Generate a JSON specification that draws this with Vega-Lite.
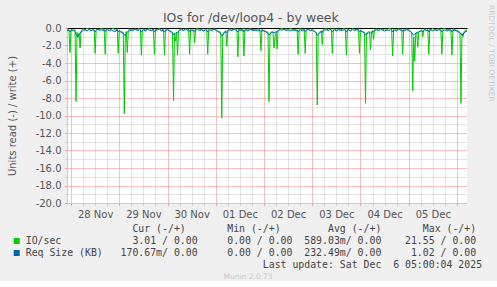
{
  "$schema": "https://vega.github.io/schema/vega-lite/v6.json",
  "background": "#F0F0F0",
  "padding": {"left": 7, "top": 5, "right": 5, "bottom": 0},
  "title": {"text": "IOs for /dev/loop4 - by week", "font": "DejaVu Sans", "fontSize": 12.5, "fontWeight": "normal", "color": "#555555", "anchor": "middle", "frame": "bounds", "offset": -19},
  "spacing": 5,
  "config": {"font": "DejaVu Sans"},
  "vconcat": [
    {
      "width": 400,
      "height": 175,
      "view": {"fill": "#FFFFFF", "stroke": null},
      "title": {"text": "RRDTOOL / TOBI OETIKER", "orient": "right", "anchor": "start", "angle": 90, "font": "DejaVu Sans", "fontSize": 7.5, "fontWeight": "normal", "color": "#C8C8C8", "offset": 18, "dx": -18},
      "data": {"values": [
        {"t":"2025-11-27T22:00","io":-0.1,"rq":-0.3},
        {"t":"2025-11-27T23:00","io":-0.2,"rq":-0.25},
        {"t":"2025-11-27T23:30","io":-2.8,"rq":-0.45},
        {"t":"2025-11-28T00:00","io":-0.15,"rq":-0.3},
        {"t":"2025-11-28T01:00","io":-0.3,"rq":-0.2},
        {"t":"2025-11-28T02:00","io":-0.2,"rq":-0.4},
        {"t":"2025-11-28T02:30","io":-8.4,"rq":-0.7},
        {"t":"2025-11-28T03:00","io":-0.5,"rq":-0.95},
        {"t":"2025-11-28T03:30","io":-1.1,"rq":-0.9},
        {"t":"2025-11-28T04:00","io":-0.6,"rq":-0.75},
        {"t":"2025-11-28T04:30","io":-2.3,"rq":-0.6},
        {"t":"2025-11-28T05:00","io":-0.3,"rq":-0.45},
        {"t":"2025-11-28T06:00","io":-0.1,"rq":-0.3},
        {"t":"2025-11-28T07:00","io":-0.2,"rq":-0.2},
        {"t":"2025-11-28T08:00","io":-0.05,"rq":-0.35},
        {"t":"2025-11-28T09:00","io":-0.15,"rq":-0.15},
        {"t":"2025-11-28T10:00","io":-0.3,"rq":-0.3},
        {"t":"2025-11-28T11:00","io":-0.1,"rq":-0.2},
        {"t":"2025-11-28T11:30","io":-0.2,"rq":-0.25},
        {"t":"2025-11-28T12:00","io":-2.9,"rq":-0.45},
        {"t":"2025-11-28T12:30","io":-0.25,"rq":-0.3},
        {"t":"2025-11-28T13:00","io":-0.1,"rq":-0.15},
        {"t":"2025-11-28T14:00","io":-0.2,"rq":-0.25},
        {"t":"2025-11-28T15:00","io":-0.05,"rq":-0.2},
        {"t":"2025-11-28T16:00","io":-0.15,"rq":-0.3},
        {"t":"2025-11-28T16:30","io":-0.1,"rq":-0.2},
        {"t":"2025-11-28T17:00","io":-3.0,"rq":-0.4},
        {"t":"2025-11-28T17:30","io":-0.2,"rq":-0.25},
        {"t":"2025-11-28T18:00","io":-0.1,"rq":-0.15},
        {"t":"2025-11-28T19:00","io":-0.3,"rq":-0.3},
        {"t":"2025-11-28T20:00","io":-0.15,"rq":-0.2},
        {"t":"2025-11-28T21:00","io":-0.05,"rq":-0.35},
        {"t":"2025-11-28T22:00","io":-0.25,"rq":-0.4},
        {"t":"2025-11-28T23:00","io":-0.1,"rq":-0.2},
        {"t":"2025-11-28T23:30","io":-2.9,"rq":-0.4},
        {"t":"2025-11-29T00:00","io":-0.3,"rq":-0.35},
        {"t":"2025-11-29T01:00","io":-0.4,"rq":-0.5},
        {"t":"2025-11-29T02:00","io":-0.5,"rq":-0.6},
        {"t":"2025-11-29T02:30","io":-9.8,"rq":-0.8},
        {"t":"2025-11-29T03:00","io":-1.0,"rq":-0.75},
        {"t":"2025-11-29T03:30","io":-0.4,"rq":-0.6},
        {"t":"2025-11-29T04:00","io":-2.8,"rq":-0.5},
        {"t":"2025-11-29T04:30","io":-0.3,"rq":-0.35},
        {"t":"2025-11-29T05:00","io":-0.2,"rq":-0.25},
        {"t":"2025-11-29T06:00","io":-0.15,"rq":-0.3},
        {"t":"2025-11-29T07:00","io":-0.3,"rq":-0.2},
        {"t":"2025-11-29T08:00","io":-0.1,"rq":-0.15},
        {"t":"2025-11-29T09:00","io":-0.2,"rq":-0.3},
        {"t":"2025-11-29T10:00","io":-0.05,"rq":-0.2},
        {"t":"2025-11-29T10:30","io":-0.15,"rq":-0.25},
        {"t":"2025-11-29T11:00","io":-3.1,"rq":-0.45},
        {"t":"2025-11-29T11:30","io":-0.2,"rq":-0.3},
        {"t":"2025-11-29T12:00","io":-0.1,"rq":-0.2},
        {"t":"2025-11-29T13:00","io":-0.25,"rq":-0.35},
        {"t":"2025-11-29T14:00","io":-0.15,"rq":-0.15},
        {"t":"2025-11-29T15:00","io":-0.05,"rq":-0.25},
        {"t":"2025-11-29T16:00","io":-0.3,"rq":-0.3},
        {"t":"2025-11-29T17:00","io":-0.1,"rq":-0.2},
        {"t":"2025-11-29T17:30","io":-3.0,"rq":-0.4},
        {"t":"2025-11-29T18:00","io":-0.2,"rq":-0.3},
        {"t":"2025-11-29T19:00","io":-0.15,"rq":-0.2},
        {"t":"2025-11-29T20:00","io":-0.05,"rq":-0.15},
        {"t":"2025-11-29T21:00","io":-0.25,"rq":-0.35},
        {"t":"2025-11-29T22:00","io":-0.1,"rq":-0.25},
        {"t":"2025-11-29T22:30","io":-3.1,"rq":-0.45},
        {"t":"2025-11-29T23:00","io":-0.2,"rq":-0.3},
        {"t":"2025-11-30T00:00","io":-0.15,"rq":-0.2},
        {"t":"2025-11-30T01:00","io":-0.3,"rq":-0.35},
        {"t":"2025-11-30T02:00","io":-0.4,"rq":-0.5},
        {"t":"2025-11-30T02:30","io":-0.5,"rq":-0.55},
        {"t":"2025-11-30T03:00","io":-8.3,"rq":-0.8},
        {"t":"2025-11-30T03:30","io":-0.6,"rq":-0.65},
        {"t":"2025-11-30T04:00","io":-1.5,"rq":-0.6},
        {"t":"2025-11-30T04:30","io":-0.5,"rq":-0.5},
        {"t":"2025-11-30T05:00","io":-3.1,"rq":-0.55},
        {"t":"2025-11-30T05:30","io":-0.3,"rq":-0.35},
        {"t":"2025-11-30T06:00","io":-0.2,"rq":-0.25},
        {"t":"2025-11-30T07:00","io":-0.1,"rq":-0.2},
        {"t":"2025-11-30T08:00","io":-0.25,"rq":-0.3},
        {"t":"2025-11-30T09:00","io":-0.05,"rq":-0.15},
        {"t":"2025-11-30T10:00","io":-0.2,"rq":-0.25},
        {"t":"2025-11-30T10:30","io":-0.1,"rq":-0.2},
        {"t":"2025-11-30T11:00","io":-3.0,"rq":-0.4},
        {"t":"2025-11-30T11:30","io":-0.15,"rq":-0.3},
        {"t":"2025-11-30T12:00","io":-0.3,"rq":-0.25},
        {"t":"2025-11-30T13:00","io":-0.2,"rq":-0.3},
        {"t":"2025-11-30T13:30","io":-1.7,"rq":-0.4},
        {"t":"2025-11-30T14:00","io":-0.1,"rq":-0.2},
        {"t":"2025-11-30T15:00","io":-0.05,"rq":-0.15},
        {"t":"2025-11-30T16:00","io":-0.2,"rq":-0.3},
        {"t":"2025-11-30T17:00","io":-0.15,"rq":-0.2},
        {"t":"2025-11-30T18:00","io":-0.3,"rq":-0.35},
        {"t":"2025-11-30T19:00","io":-0.1,"rq":-0.2},
        {"t":"2025-11-30T19:30","io":-0.2,"rq":-0.25},
        {"t":"2025-11-30T20:00","io":-3.0,"rq":-0.45},
        {"t":"2025-11-30T20:30","io":-0.15,"rq":-0.3},
        {"t":"2025-11-30T21:00","io":-0.05,"rq":-0.2},
        {"t":"2025-11-30T22:00","io":-0.25,"rq":-0.3},
        {"t":"2025-11-30T23:00","io":-0.1,"rq":-0.15},
        {"t":"2025-12-01T00:00","io":-0.2,"rq":-0.25},
        {"t":"2025-12-01T01:00","io":-0.35,"rq":-0.4},
        {"t":"2025-12-01T02:00","io":-0.4,"rq":-0.55},
        {"t":"2025-12-01T02:30","io":-0.6,"rq":-0.7},
        {"t":"2025-12-01T03:00","io":-10.3,"rq":-0.9},
        {"t":"2025-12-01T03:30","io":-0.7,"rq":-0.8},
        {"t":"2025-12-01T04:00","io":-0.5,"rq":-0.6},
        {"t":"2025-12-01T05:00","io":-0.3,"rq":-0.45},
        {"t":"2025-12-01T05:30","io":-2.1,"rq":-0.5},
        {"t":"2025-12-01T06:00","io":-0.2,"rq":-0.3},
        {"t":"2025-12-01T07:00","io":-0.1,"rq":-0.2},
        {"t":"2025-12-01T08:00","io":-0.25,"rq":-0.3},
        {"t":"2025-12-01T09:00","io":-0.05,"rq":-0.15},
        {"t":"2025-12-01T10:00","io":-0.15,"rq":-0.25},
        {"t":"2025-12-01T10:30","io":-0.2,"rq":-0.3},
        {"t":"2025-12-01T11:00","io":-3.3,"rq":-0.45},
        {"t":"2025-12-01T11:30","io":-0.1,"rq":-0.25},
        {"t":"2025-12-01T12:00","io":-0.3,"rq":-0.2},
        {"t":"2025-12-01T13:00","io":-0.15,"rq":-0.3},
        {"t":"2025-12-01T13:30","io":-0.05,"rq":-0.2},
        {"t":"2025-12-01T14:00","io":-3.2,"rq":-0.45},
        {"t":"2025-12-01T14:30","io":-0.2,"rq":-0.3},
        {"t":"2025-12-01T15:00","io":-0.1,"rq":-0.2},
        {"t":"2025-12-01T16:00","io":-0.25,"rq":-0.35},
        {"t":"2025-12-01T17:00","io":-0.05,"rq":-0.15},
        {"t":"2025-12-01T18:00","io":-0.2,"rq":-0.25},
        {"t":"2025-12-01T19:00","io":-0.15,"rq":-0.3},
        {"t":"2025-12-01T20:00","io":-0.3,"rq":-0.2},
        {"t":"2025-12-01T21:00","io":-0.1,"rq":-0.35},
        {"t":"2025-12-01T22:00","io":-0.2,"rq":-0.25},
        {"t":"2025-12-01T22:30","io":-2.6,"rq":-0.4},
        {"t":"2025-12-01T23:00","io":-0.15,"rq":-0.3},
        {"t":"2025-12-02T00:00","io":-0.3,"rq":-0.35},
        {"t":"2025-12-02T01:00","io":-0.4,"rq":-0.45},
        {"t":"2025-12-02T02:00","io":-0.5,"rq":-0.6},
        {"t":"2025-12-02T02:30","io":-8.4,"rq":-0.8},
        {"t":"2025-12-02T03:00","io":-0.6,"rq":-0.7},
        {"t":"2025-12-02T04:00","io":-0.4,"rq":-0.5},
        {"t":"2025-12-02T04:30","io":-0.5,"rq":-0.45},
        {"t":"2025-12-02T05:00","io":-2.3,"rq":-0.55},
        {"t":"2025-12-02T05:30","io":-1.0,"rq":-0.5},
        {"t":"2025-12-02T06:00","io":-0.5,"rq":-0.4},
        {"t":"2025-12-02T06:30","io":-2.4,"rq":-0.5},
        {"t":"2025-12-02T07:00","io":-0.3,"rq":-0.3},
        {"t":"2025-12-02T08:00","io":-0.15,"rq":-0.2},
        {"t":"2025-12-02T09:00","io":-0.05,"rq":-0.25},
        {"t":"2025-12-02T10:00","io":-0.2,"rq":-0.15},
        {"t":"2025-12-02T11:00","io":-0.1,"rq":-0.3},
        {"t":"2025-12-02T12:00","io":-0.25,"rq":-0.2},
        {"t":"2025-12-02T13:00","io":-0.05,"rq":-0.35},
        {"t":"2025-12-02T14:00","io":-0.15,"rq":-0.25},
        {"t":"2025-12-02T15:00","io":-0.3,"rq":-0.2},
        {"t":"2025-12-02T16:00","io":-0.1,"rq":-0.3},
        {"t":"2025-12-02T16:30","io":-0.2,"rq":-0.25},
        {"t":"2025-12-02T17:00","io":-3.0,"rq":-0.45},
        {"t":"2025-12-02T17:30","io":-0.15,"rq":-0.3},
        {"t":"2025-12-02T18:00","io":-0.05,"rq":-0.2},
        {"t":"2025-12-02T19:00","io":-0.25,"rq":-0.35},
        {"t":"2025-12-02T20:00","io":-0.1,"rq":-0.2},
        {"t":"2025-12-02T20:30","io":-2.9,"rq":-0.4},
        {"t":"2025-12-02T21:00","io":-0.2,"rq":-0.3},
        {"t":"2025-12-02T22:00","io":-0.15,"rq":-0.15},
        {"t":"2025-12-02T23:00","io":-0.3,"rq":-0.3},
        {"t":"2025-12-03T00:00","io":-0.1,"rq":-0.25},
        {"t":"2025-12-03T01:00","io":-0.35,"rq":-0.4},
        {"t":"2025-12-03T02:00","io":-0.5,"rq":-0.55},
        {"t":"2025-12-03T02:30","io":-8.8,"rq":-0.85},
        {"t":"2025-12-03T03:00","io":-0.6,"rq":-0.75},
        {"t":"2025-12-03T04:00","io":-0.4,"rq":-0.5},
        {"t":"2025-12-03T04:30","io":-0.3,"rq":-0.4},
        {"t":"2025-12-03T05:00","io":-1.9,"rq":-0.5},
        {"t":"2025-12-03T05:30","io":-0.2,"rq":-0.3},
        {"t":"2025-12-03T06:00","io":-0.15,"rq":-0.25},
        {"t":"2025-12-03T07:00","io":-0.05,"rq":-0.2},
        {"t":"2025-12-03T08:00","io":-0.25,"rq":-0.3},
        {"t":"2025-12-03T09:00","io":-0.1,"rq":-0.15},
        {"t":"2025-12-03T09:30","io":-0.2,"rq":-0.25},
        {"t":"2025-12-03T10:00","io":-2.9,"rq":-0.45},
        {"t":"2025-12-03T10:30","io":-0.15,"rq":-0.3},
        {"t":"2025-12-03T11:00","io":-0.05,"rq":-0.2},
        {"t":"2025-12-03T12:00","io":-0.3,"rq":-0.35},
        {"t":"2025-12-03T13:00","io":-0.1,"rq":-0.2},
        {"t":"2025-12-03T14:00","io":-0.2,"rq":-0.25},
        {"t":"2025-12-03T15:00","io":-0.15,"rq":-0.3},
        {"t":"2025-12-03T16:00","io":-0.05,"rq":-0.15},
        {"t":"2025-12-03T16:30","io":-0.25,"rq":-0.3},
        {"t":"2025-12-03T17:00","io":-3.1,"rq":-0.45},
        {"t":"2025-12-03T17:30","io":-0.1,"rq":-0.25},
        {"t":"2025-12-03T18:00","io":-0.2,"rq":-0.2},
        {"t":"2025-12-03T19:00","io":-0.3,"rq":-0.35},
        {"t":"2025-12-03T20:00","io":-0.05,"rq":-0.15},
        {"t":"2025-12-03T21:00","io":-0.15,"rq":-0.3},
        {"t":"2025-12-03T22:00","io":-0.2,"rq":-0.2},
        {"t":"2025-12-03T23:00","io":-0.1,"rq":-0.25},
        {"t":"2025-12-03T23:30","io":-2.9,"rq":-0.4},
        {"t":"2025-12-04T00:00","io":-0.25,"rq":-0.3},
        {"t":"2025-12-04T01:00","io":-0.4,"rq":-0.45},
        {"t":"2025-12-04T02:00","io":-0.5,"rq":-0.55},
        {"t":"2025-12-04T02:30","io":-8.6,"rq":-0.8},
        {"t":"2025-12-04T03:00","io":-0.6,"rq":-0.7},
        {"t":"2025-12-04T04:00","io":-0.4,"rq":-0.55},
        {"t":"2025-12-04T04:30","io":-0.5,"rq":-0.45},
        {"t":"2025-12-04T05:00","io":-2.5,"rq":-0.6},
        {"t":"2025-12-04T05:30","io":-0.4,"rq":-0.5},
        {"t":"2025-12-04T06:00","io":-0.3,"rq":-0.4},
        {"t":"2025-12-04T06:30","io":-1.3,"rq":-0.45},
        {"t":"2025-12-04T07:00","io":-0.2,"rq":-0.3},
        {"t":"2025-12-04T08:00","io":-0.1,"rq":-0.2},
        {"t":"2025-12-04T09:00","io":-0.25,"rq":-0.3},
        {"t":"2025-12-04T10:00","io":-0.05,"rq":-0.15},
        {"t":"2025-12-04T11:00","io":-0.2,"rq":-0.25},
        {"t":"2025-12-04T12:00","io":-0.15,"rq":-0.35},
        {"t":"2025-12-04T13:00","io":-0.3,"rq":-0.2},
        {"t":"2025-12-04T14:00","io":-0.1,"rq":-0.3},
        {"t":"2025-12-04T15:00","io":-0.05,"rq":-0.2},
        {"t":"2025-12-04T15:30","io":-0.2,"rq":-0.25},
        {"t":"2025-12-04T16:00","io":-3.2,"rq":-0.45},
        {"t":"2025-12-04T16:30","io":-0.15,"rq":-0.3},
        {"t":"2025-12-04T17:00","io":-0.1,"rq":-0.2},
        {"t":"2025-12-04T18:00","io":-0.25,"rq":-0.35},
        {"t":"2025-12-04T19:00","io":-0.05,"rq":-0.15},
        {"t":"2025-12-04T20:00","io":-0.2,"rq":-0.25},
        {"t":"2025-12-04T20:30","io":-0.1,"rq":-0.2},
        {"t":"2025-12-04T21:00","io":-3.0,"rq":-0.4},
        {"t":"2025-12-04T21:30","io":-0.15,"rq":-0.3},
        {"t":"2025-12-04T22:00","io":-0.3,"rq":-0.25},
        {"t":"2025-12-04T23:00","io":-0.1,"rq":-0.2},
        {"t":"2025-12-05T00:00","io":-0.2,"rq":-0.3},
        {"t":"2025-12-05T01:00","io":-0.4,"rq":-0.45},
        {"t":"2025-12-05T01:30","io":-0.5,"rq":-0.55},
        {"t":"2025-12-05T02:00","io":-7.2,"rq":-0.75},
        {"t":"2025-12-05T02:30","io":-1.0,"rq":-0.8},
        {"t":"2025-12-05T03:00","io":-3.8,"rq":-0.7},
        {"t":"2025-12-05T03:30","io":-0.6,"rq":-0.6},
        {"t":"2025-12-05T04:00","io":-0.5,"rq":-0.5},
        {"t":"2025-12-05T04:30","io":-2.2,"rq":-0.55},
        {"t":"2025-12-05T05:00","io":-0.4,"rq":-0.45},
        {"t":"2025-12-05T06:00","io":-0.3,"rq":-0.35},
        {"t":"2025-12-05T06:30","io":-0.2,"rq":-0.3},
        {"t":"2025-12-05T07:00","io":-1.0,"rq":-0.45},
        {"t":"2025-12-05T07:30","io":-0.2,"rq":-0.3},
        {"t":"2025-12-05T08:00","io":-0.1,"rq":-0.2},
        {"t":"2025-12-05T09:00","io":-0.25,"rq":-0.3},
        {"t":"2025-12-05T09:30","io":-0.15,"rq":-0.25},
        {"t":"2025-12-05T10:00","io":-3.0,"rq":-0.45},
        {"t":"2025-12-05T10:30","io":-0.1,"rq":-0.3},
        {"t":"2025-12-05T11:00","io":-0.2,"rq":-0.2},
        {"t":"2025-12-05T12:00","io":-0.05,"rq":-0.35},
        {"t":"2025-12-05T13:00","io":-0.3,"rq":-0.15},
        {"t":"2025-12-05T14:00","io":-0.15,"rq":-0.3},
        {"t":"2025-12-05T15:00","io":-0.1,"rq":-0.2},
        {"t":"2025-12-05T16:00","io":-0.25,"rq":-0.25},
        {"t":"2025-12-05T16:30","io":-3.0,"rq":-0.45},
        {"t":"2025-12-05T17:00","io":-0.1,"rq":-0.3},
        {"t":"2025-12-05T18:00","io":-0.05,"rq":-0.2},
        {"t":"2025-12-05T19:00","io":-0.2,"rq":-0.35},
        {"t":"2025-12-05T20:00","io":-0.15,"rq":-0.25},
        {"t":"2025-12-05T21:00","io":-0.3,"rq":-0.2},
        {"t":"2025-12-05T21:30","io":-3.1,"rq":-0.45},
        {"t":"2025-12-05T22:00","io":-0.1,"rq":-0.3},
        {"t":"2025-12-05T23:00","io":-0.2,"rq":-0.25},
        {"t":"2025-12-06T00:00","io":-0.3,"rq":-0.35},
        {"t":"2025-12-06T01:00","io":-0.4,"rq":-0.5},
        {"t":"2025-12-06T01:30","io":-0.5,"rq":-0.55},
        {"t":"2025-12-06T02:00","io":-8.6,"rq":-0.7},
        {"t":"2025-12-06T02:30","io":-0.6,"rq":-0.75},
        {"t":"2025-12-06T03:00","io":-1.0,"rq":-0.8},
        {"t":"2025-12-06T03:30","io":-0.4,"rq":-0.6},
        {"t":"2025-12-06T04:00","io":-0.3,"rq":-0.45},
        {"t":"2025-12-06T05:00","io":-0.2,"rq":-0.35}
      ]},
      "layer": [
        {
          "mark": {"type": "line", "color": "#00CC00", "strokeWidth": 1},
          "encoding": {
            "x": {"field": "t", "type": "temporal",
                  "scale": {"domain": [{"year": 2025, "month": 11, "date": 27, "hours": 22}, {"year": 2025, "month": 12, "date": 6, "hours": 5}]},
                  "axis": {"orient": "bottom", "title": null, "format": "%d %b", "tickCount": 200,
                           "values": [
                             {"year":2025,"month":11,"date":28,"hours":0},{"year":2025,"month":11,"date":28,"hours":6},{"year":2025,"month":11,"date":28,"hours":12},{"year":2025,"month":11,"date":28,"hours":18},
                             {"year":2025,"month":11,"date":29,"hours":0},{"year":2025,"month":11,"date":29,"hours":6},{"year":2025,"month":11,"date":29,"hours":12},{"year":2025,"month":11,"date":29,"hours":18},
                             {"year":2025,"month":11,"date":30,"hours":0},{"year":2025,"month":11,"date":30,"hours":6},{"year":2025,"month":11,"date":30,"hours":12},{"year":2025,"month":11,"date":30,"hours":18},
                             {"year":2025,"month":12,"date":1,"hours":0},{"year":2025,"month":12,"date":1,"hours":6},{"year":2025,"month":12,"date":1,"hours":12},{"year":2025,"month":12,"date":1,"hours":18},
                             {"year":2025,"month":12,"date":2,"hours":0},{"year":2025,"month":12,"date":2,"hours":6},{"year":2025,"month":12,"date":2,"hours":12},{"year":2025,"month":12,"date":2,"hours":18},
                             {"year":2025,"month":12,"date":3,"hours":0},{"year":2025,"month":12,"date":3,"hours":6},{"year":2025,"month":12,"date":3,"hours":12},{"year":2025,"month":12,"date":3,"hours":18},
                             {"year":2025,"month":12,"date":4,"hours":0},{"year":2025,"month":12,"date":4,"hours":6},{"year":2025,"month":12,"date":4,"hours":12},{"year":2025,"month":12,"date":4,"hours":18},
                             {"year":2025,"month":12,"date":5,"hours":0},{"year":2025,"month":12,"date":5,"hours":6},{"year":2025,"month":12,"date":5,"hours":12},{"year":2025,"month":12,"date":5,"hours":18},
                             {"year":2025,"month":12,"date":6,"hours":0}
                           ],
                           "labelExpr": "hours(datum.value) == 12 ? datum.label : ''",
                           "grid": true, "gridDash": [1, 1],
                           "gridColor": {"condition": {"test": "hours(datum.value) == 0", "value": "#F08080"}, "value": "#C8C8C8"},
                           "domain": true, "domainColor": "#C8C8F0", "ticks": true, "tickSize": 2,
                           "tickColor": {"condition": {"test": "hours(datum.value) == 0", "value": "#F08080"}, "value": "#C8C8C8"},
                           "labelOverlap": false, "labelFlush": false, "labelBound": false,
                           "labelFont": "DejaVu Sans", "labelFontSize": 10, "labelColor": "#555555", "labelPadding": 4}},
            "y": {"field": "io", "type": "quantitative", "scale": {"domain": [-20, 0], "nice": false},
                  "axis": {"orient": "left", "title": "Units read (-) / write (+)", "tickCount": 200,
                           "values": [-20, -19, -18, -17, -16, -15, -14, -13, -12, -11, -10, -9, -8, -7, -6, -5, -4, -3, -2, -1, 0],
                           "labelExpr": "datum.value % 2 == 0 ? replace(format(datum.value, '.1f'), '\u2212', '-') : ''",
                           "grid": true,
                           "gridDash": {"condition": {"test": "datum.value == 0", "value": []}, "value": [1, 1]},
                           "gridColor": {"condition": [{"test": "datum.value == 0", "value": "#000000"}, {"test": "datum.value % 2 == 0", "value": "#F08080"}], "value": "#C8C8C8"},
                           "domain": true, "domainColor": "#C8C8F0", "ticks": true, "tickSize": 2,
                           "tickColor": {"condition": {"test": "datum.value % 2 == 0", "value": "#F08080"}, "value": "#C8C8C8"},
                           "labelOverlap": false, "labelFont": "DejaVu Sans", "labelFontSize": 10, "labelColor": "#555555", "labelPadding": 4,
                           "titleFont": "DejaVu Sans", "titleFontSize": 10, "titleFontWeight": "normal", "titleColor": "#555555", "titlePadding": 18}}
          }
        },
        {
          "mark": {"type": "line", "color": "#0066B3", "strokeWidth": 1},
          "encoding": {
            "x": {"field": "t", "type": "temporal"},
            "y": {"field": "rq", "type": "quantitative"}
          }
        }
      ]
    },
    {
      "width": 400,
      "height": 54,
      "view": {"stroke": null},
      "layer": [
        {
          "data": {"values": [{"row": "io", "series": "IO/sec"}, {"row": "rq", "series": "Req Size (KB)"}]},
          "mark": {"type": "square", "size": 36, "opacity": 1, "filled": true, "strokeWidth": 0},
          "encoding": {
            "x": {"datum": -1.52, "type": "quantitative", "scale": {"domain": [6.96, 74.41], "nice": false, "zero": false}, "axis": null},
            "y": {"field": "row", "type": "nominal", "scale": {"type": "point", "domain": ["hdr", "io", "rq", "upd", "munin"], "padding": 0.25}, "axis": null},
            "color": {"field": "series", "type": "nominal", "scale": {"domain": ["IO/sec", "Req Size (KB)"], "range": ["#00CC00", "#0066B3"]}, "legend": null}
          }
        },
        {
          "data": {"values": [
            {"row": "hdr", "line": "\u200b\u00a0\u00a0\u00a0\u00a0\u00a0\u00a0\u00a0\u00a0\u00a0\u00a0\u00a0\u00a0\u00a0\u00a0\u00a0\u00a0\u00a0\u00a0Cur\u00a0(-/+)\u00a0\u00a0\u00a0\u00a0\u00a0\u00a0\u00a0Min\u00a0(-/+)\u00a0\u00a0\u00a0\u00a0\u00a0\u00a0\u00a0\u00a0Avg\u00a0(-/+)\u00a0\u00a0\u00a0\u00a0\u00a0\u00a0\u00a0Max\u00a0(-/+)"},
            {"row": "io", "line": "IO/sec\u00a0\u00a0\u00a0\u00a0\u00a0\u00a0\u00a0\u00a0\u00a0\u00a0\u00a0\u00a03.01\u00a0/\u00a00.00\u00a0\u00a0\u00a0\u00a0\u00a00.00\u00a0/\u00a00.00\u00a0\u00a0589.03m/\u00a00.00\u00a0\u00a0\u00a0\u00a021.55\u00a0/\u00a00.00"},
            {"row": "rq", "line": "Req\u00a0Size\u00a0(KB)\u00a0\u00a0\u00a0170.67m/\u00a00.00\u00a0\u00a0\u00a0\u00a0\u00a00.00\u00a0/\u00a00.00\u00a0\u00a0232.49m/\u00a00.00\u00a0\u00a0\u00a0\u00a0\u00a01.02\u00a0/\u00a00.00"},
            {"row": "upd", "line": "\u200b\u00a0\u00a0\u00a0\u00a0\u00a0\u00a0\u00a0\u00a0\u00a0\u00a0\u00a0\u00a0\u00a0\u00a0\u00a0\u00a0\u00a0\u00a0\u00a0\u00a0\u00a0\u00a0\u00a0\u00a0\u00a0\u00a0\u00a0\u00a0\u00a0\u00a0\u00a0\u00a0\u00a0\u00a0\u00a0\u00a0\u00a0\u00a0\u00a0\u00a0Last\u00a0update:\u00a0Sat\u00a0Dec\u00a0\u00a06\u00a005:00:04\u00a02025"}
          ]},
          "mark": {"type": "text", "align": "left", "baseline": "middle", "font": "DejaVu Sans Mono", "fontSize": 9.85, "color": "#444444"},
          "encoding": {
            "x": {"datum": 0, "type": "quantitative"},
            "y": {"field": "row", "type": "nominal"},
            "text": {"field": "line"}
          }
        },
        {
          "data": {"values": [{"row": "munin", "line": "Munin 2.0.73"}]},
          "mark": {"type": "text", "align": "center", "baseline": "middle", "font": "DejaVu Sans", "fontSize": 7.5, "color": "#C8C8C8"},
          "encoding": {
            "x": {"datum": 37.49, "type": "quantitative"},
            "y": {"field": "row", "type": "nominal"},
            "text": {"field": "line"}
          }
        }
      ]
    }
  ]
}
